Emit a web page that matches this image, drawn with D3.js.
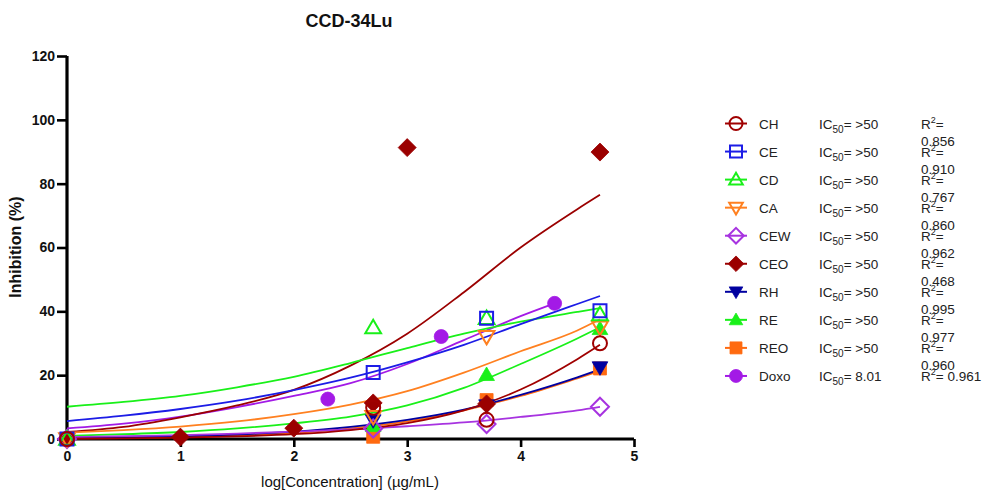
<!DOCTYPE html>
<html>
<head>
<meta charset="utf-8">
<script src="https://cdn.jsdelivr.net/npm/d3@7/dist/d3.min.js"></script>
<style>
  html, body { margin: 0; padding: 0; background: #ffffff; }
  svg { display: block; font-family: "Liberation Sans", Arial, sans-serif; }
</style>
</head>
<body>
<svg id="chart" width="986" height="492"></svg>
<script>
// ---------------- DATA ----------------
const categories = ["CH", "CE", "CD", "CA", "CEW", "CEO", "RH", "RE", "REO", "Doxo"];
const ic50Labels = [">50", ">50", ">50", ">50", ">50", ">50", ">50", ">50", ">50", "8.01"];
const r2Labels = ["0.856", "0.910", "0.767", "0.860", "0.962", "0.468", "0.995", "0.977", "0.960", "0.961"];

const xTicks = [0, 1, 2, 3, 4, 5];
const yTicks = [0, 20, 40, 60, 80, 100, 120];

// measured points (log concentration)
const extractX = [0, 2.7, 3.7, 4.7];
const ceoX = [0, 1, 2, 2.7, 3, 3.7, 4.7];
const doxoX = [0, 2.3, 3.3, 4.3];

const chValues  = [0, 9.8, 6.0, 30.0];
const ceValues  = [0, 20.8, 37.8, 40.2];
const cdValues  = [0, 34.9, 37.8, 39.0];
const caValues  = [0, 7.0, 32.1, 35.0];
const cewValues = [0, 3.3, 4.7, 10.1];
const ceoValues = [0, 0.6, 3.4, 11.3, 91.3, 11.0, 89.9];
const rhValues  = [0, 5.8, 10.5, 22.4];
const reValues  = [0, 4.1, 20.1, 34.5];
const reoValues = [0, 0.7, 12.2, 22.1];
const doxoValues = [0, 12.5, 32.1, 42.5];

// fitted curves
const fitX = [0, 0.5, 1, 1.5, 2, 2.5, 3, 3.5, 4, 4.5, 4.7];
const doxoFitX = [0, 0.5, 1, 1.5, 2, 2.5, 3, 3.5, 4, 4.3];

const chFit  = [0.1, 0.2, 0.4, 0.8, 1.5, 2.8, 5.0, 9.0, 15.5, 25.0, 29.5];
const ceFit  = [5.6, 7.3, 9.4, 12.0, 15.3, 19.2, 24.0, 29.5, 36.0, 42.3, 44.8];
const cdFit  = [10.1, 11.6, 13.5, 16.2, 19.5, 23.8, 28.5, 33.0, 36.8, 39.8, 41.0];
const caFit  = [2.0, 2.8, 3.9, 5.5, 7.8, 10.8, 15.0, 20.8, 27.5, 34.0, 37.5];
const cewFit = [0.6, 0.9, 1.2, 1.7, 2.3, 3.0, 4.0, 5.2, 6.9, 9.0, 10.1];
const ceoFit = [2.2, 3.8, 6.8, 10.5, 15.4, 23.0, 33.0, 46.0, 60.0, 72.0, 76.5];
const rhFit  = [0.3, 0.5, 0.8, 1.4, 2.3, 3.8, 6.0, 9.2, 13.8, 19.3, 21.8];
const reFit  = [1.0, 1.5, 2.2, 3.3, 4.9, 7.0, 10.5, 16.0, 23.5, 31.5, 35.0];
const reoFit = [0.2, 0.3, 0.6, 1.1, 1.9, 3.3, 5.5, 9.0, 13.5, 19.0, 21.3];
const doxoFit = [3.3, 4.8, 7.0, 10.0, 13.5, 17.5, 23.5, 31.0, 38.5, 42.5];

// ---------------- STYLE ----------------
const styles = [
  { color: "#a00000", shape: "circle",   filled: false },
  { color: "#1c1ce6", shape: "square",   filled: false },
  { color: "#19f019", shape: "triangle", filled: false },
  { color: "#ff8020", shape: "triDown",  filled: false },
  { color: "#a733e0", shape: "diamond",  filled: false },
  { color: "#9b0000", shape: "diamond",  filled: true },
  { color: "#0000a0", shape: "triDown",  filled: true },
  { color: "#19f019", shape: "triangle", filled: true },
  { color: "#ff6a10", shape: "square",   filled: true },
  { color: "#a31ae6", shape: "circle",   filled: true }
];

const series = [
  { xs: extractX, ys: chValues,  fx: fitX, fy: chFit },
  { xs: extractX, ys: ceValues,  fx: fitX, fy: ceFit },
  { xs: extractX, ys: cdValues,  fx: fitX, fy: cdFit },
  { xs: extractX, ys: caValues,  fx: fitX, fy: caFit },
  { xs: extractX, ys: cewValues, fx: fitX, fy: cewFit },
  { xs: ceoX,     ys: ceoValues, fx: fitX, fy: ceoFit },
  { xs: extractX, ys: rhValues,  fx: fitX, fy: rhFit },
  { xs: extractX, ys: reValues,  fx: fitX, fy: reFit },
  { xs: extractX, ys: reoValues, fx: fitX, fy: reoFit },
  { xs: doxoX,    ys: doxoValues, fx: doxoFitX, fy: doxoFit }
];

// ---------------- DRAW ----------------
const svg = d3.select("#chart");
const FONT = '"Liberation Sans", Arial, sans-serif';

const x = d3.scaleLinear().domain([0, 5]).range([67, 634]);
const y = d3.scaleLinear().domain([0, 120]).range([439, 56]);

function shapePath(shape, s) {
  switch (shape) {
    case "circle":
      return `M${-s},0A${s},${s} 0 1,0 ${s},0A${s},${s} 0 1,0 ${-s},0Z`;
    case "square":
      return `M${-s},${-s}L${s},${-s}L${s},${s}L${-s},${s}Z`;
    case "triangle": {
      const h = s * 1.8;
      return `M0,${-h * 0.58}L${s * 1.05},${h * 0.42}L${-s * 1.05},${h * 0.42}Z`;
    }
    case "triDown": {
      const h = s * 1.8;
      return `M0,${h * 0.58}L${s * 1.05},${-h * 0.42}L${-s * 1.05},${-h * 0.42}Z`;
    }
    case "diamond": {
      const d = s * 1.2;
      return `M0,${-d}L${d},0L0,${d}L${-d},0Z`;
    }
  }
}

// Title
svg.append("text")
  .attr("x", 349).attr("y", 27)
  .attr("text-anchor", "middle")
  .attr("font-family", FONT)
  .attr("font-weight", "bold")
  .attr("font-size", 18)
  .attr("fill", "#111")
  .text("CCD-34Lu");

// Axes
const yAxis = d3.axisLeft(y).tickValues(yTicks).tickFormat(d3.format("d"))
  .tickSize(10).tickSizeOuter(0).tickPadding(2);
const xAxis = d3.axisBottom(x).tickValues(xTicks).tickFormat(d3.format("d"))
  .tickSize(8).tickSizeOuter(0).tickPadding(4);

const gy = svg.append("g").attr("transform", `translate(${x(0)},0)`).call(yAxis);
const gx = svg.append("g").attr("transform", `translate(0,${y(0)})`).call(xAxis);

[gx, gy].forEach(g => {
  g.select(".domain").attr("stroke", "#000").attr("stroke-width", 3.2);
  g.selectAll(".tick line").attr("stroke", "#000").attr("stroke-width", 2.6);
  g.selectAll(".tick text")
    .attr("font-family", FONT)
    .attr("font-weight", "bold")
    .attr("font-size", 14)
    .attr("fill", "#111");
});
gy.select(".domain").attr("d", `M0,${y(0) + 1.5}V${y(120)}`);
gx.select(".domain").attr("d", `M${x(0) - 1.5},0H${x(5)}`);

// Axis titles
svg.append("text")
  .attr("transform", `translate(21,247) rotate(-90)`)
  .attr("text-anchor", "middle")
  .attr("font-family", FONT)
  .attr("font-weight", "bold")
  .attr("font-size", 16)
  .attr("fill", "#111")
  .text("Inhibition (%)");

svg.append("text")
  .attr("x", 350).attr("y", 487)
  .attr("text-anchor", "middle")
  .attr("font-family", FONT)
  .attr("font-size", 15)
  .attr("fill", "#111")
  .text("log[Concentration] (\u00b5g/mL)");

// Curves (reverse order so earlier series are on top)
const plot = svg.append("g");
const line = d3.line().curve(d3.curveMonotoneX);
const order = d3.range(series.length).reverse();

order.forEach(i => {
  const s = series[i];
  const pts = s.fx.map((v, k) => [x(v), y(s.fy[k])]);
  plot.append("path")
    .attr("d", line(pts))
    .attr("fill", "none")
    .attr("stroke", styles[i].color)
    .attr("stroke-width", 1.8);
});

order.forEach(i => {
  const s = series[i];
  const st = styles[i];
  const half = st.shape === "square" ? 6.5 : (st.shape === "circle" ? 7 : 7.5);
  plot.selectAll(null)
    .data(s.xs.map((v, k) => [v, s.ys[k]]))
    .enter().append("path")
    .attr("transform", d => `translate(${x(d[0])},${y(d[1])})`)
    .attr("d", shapePath(st.shape, half))
    .attr("fill", st.filled ? st.color : "none")
    .attr("stroke", st.color)
    .attr("stroke-width", st.filled ? 0.8 : 2);
});

// Legend
const legend = svg.append("g");
const rowY0 = 123.5, rowDy = 28.05;
categories.forEach((name, i) => {
  const st = styles[i];
  const ry = rowY0 + i * rowDy;
  const g = legend.append("g");
  g.append("line")
    .attr("x1", 725).attr("x2", 747)
    .attr("y1", ry).attr("y2", ry)
    .attr("stroke", st.color).attr("stroke-width", 2);
  g.append("path")
    .attr("transform", `translate(736,${ry})`)
    .attr("d", shapePath(st.shape, st.shape === "square" ? 6 : 6.5))
    .attr("fill", st.filled ? st.color : "none")
    .attr("stroke", st.color)
    .attr("stroke-width", st.filled ? 0.8 : 2);

  g.append("text")
    .attr("x", 759).attr("y", ry + 5)
    .attr("font-family", FONT).attr("font-size", 13.5).attr("fill", "#222")
    .text(name);

  const ic = g.append("text")
    .attr("x", 819).attr("y", ry + 5)
    .attr("font-family", FONT).attr("font-size", 13.5).attr("fill", "#222");
  ic.append("tspan").text("IC");
  ic.append("tspan").attr("font-size", 10).attr("dy", 4).text("50");
  ic.append("tspan").attr("dy", -4).text("= " + ic50Labels[i]);

  const last = i === categories.length - 1;
  const r2 = g.append("text")
    .attr("x", 921).attr("y", ry + 5)
    .attr("font-family", FONT).attr("font-size", 13.5).attr("fill", "#222");
  r2.append("tspan").text("R");
  r2.append("tspan").attr("font-size", 9).attr("dy", -6).text("2");
  r2.append("tspan").attr("dy", 6).text(last ? "= " + r2Labels[i] : "=");
  if (!last) {
    g.append("text")
      .attr("x", 921).attr("y", ry + 5 + 17.5)
      .attr("font-family", FONT).attr("font-size", 13.5).attr("fill", "#222")
      .text(r2Labels[i]);
  }
});
</script>
</body>
</html>
